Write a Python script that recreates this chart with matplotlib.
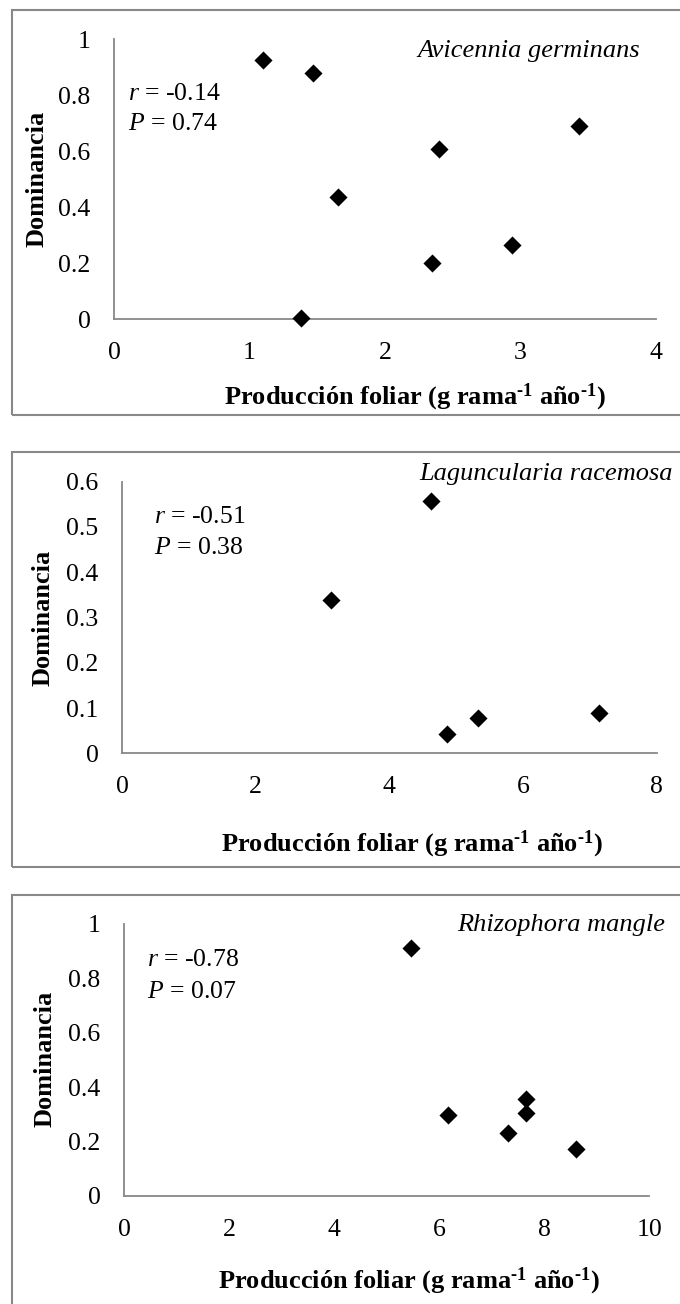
import matplotlib
matplotlib.use('Agg')
import matplotlib.pyplot as plt
from matplotlib.patches import Rectangle

plt.rcParams['font.family'] = 'Liberation Serif'
plt.rcParams['mathtext.fontset'] = 'custom'
plt.rcParams['mathtext.rm'] = 'Liberation Serif:bold'
plt.rcParams['mathtext.it'] = 'Liberation Serif:italic'
plt.rcParams['mathtext.bf'] = 'Liberation Serif:bold'

W, H = 680, 1304
GREY = '#888888'
FS = 18.5

# --- data ---
# Avicennia germinans
avi_x = [1.10, 1.47, 1.65, 1.38, 2.40, 2.35, 2.94, 3.43]
avi_y = [0.925, 0.877, 0.435, 0.005, 0.606, 0.201, 0.264, 0.689]
avi_xticks = [0, 1, 2, 3, 4]
avi_yticks = [0, 0.2, 0.4, 0.6, 0.8, 1]
avi_ylabels = ['0', '0.2', '0.4', '0.6', '0.8', '1']
avi_stats = ['-0.14', '0.74']

# Laguncularia racemosa
lag_x = [4.62, 3.12, 4.87, 5.32, 7.14]
lag_y = [0.557, 0.339, 0.043, 0.077, 0.090]
lag_xticks = [0, 2, 4, 6, 8]
lag_yticks = [0, 0.1, 0.2, 0.3, 0.4, 0.5, 0.6]
lag_ylabels = ['0', '0.1', '0.2', '0.3', '0.4', '0.5', '0.6']
lag_stats = ['-0.51', '0.38']

# Rhizophora mangle
rhi_x = [5.47, 6.16, 7.30, 7.66, 7.66, 8.60]
rhi_y = [0.911, 0.297, 0.230, 0.355, 0.306, 0.171]
rhi_xticks = [0, 2, 4, 6, 8, 10]
rhi_yticks = [0, 0.2, 0.4, 0.6, 0.8, 1]
rhi_ylabels = ['0', '0.2', '0.4', '0.6', '0.8', '1']
rhi_stats = ['-0.78', '0.07']

species = ['Avicennia germinans', 'Laguncularia racemosa', 'Rhizophora mangle']
xlabel = 'Producción foliar (g rama$^{\\text{-1}}$ año$^{\\text{-1}}$)'
ylabel = 'Dominancia'

# layout in pixels (left, top, right, bottom of the plot area)
panels = [
    dict(x=avi_x, y=avi_y, xt=avi_xticks, yt=avi_yticks, yl=avi_ylabels, st=avi_stats,
         area=(114, 39, 656, 319), box=(9.5, 415), sp=(640, 56.5),
         stat=(128, 100.5, 130.5), xlab=(415, 404), ylab=(37, 179)),
    dict(x=lag_x, y=lag_y, xt=lag_xticks, yt=lag_yticks, yl=lag_ylabels, st=lag_stats,
         area=(122, 481.7, 656.7, 753.3), box=(452, 866.5), sp=(673, 480),
         stat=(153.5, 523, 554), xlab=(412, 851.5), ylab=(43, 617.5)),
    dict(x=rhi_x, y=rhi_y, xt=rhi_xticks, yt=rhi_yticks, yl=rhi_ylabels, st=rhi_stats,
         area=(124.3, 924, 649.3, 1195.7), box=(894.5, 1310), sp=(665, 931.5),
         stat=(147, 966.5, 997.5), xlab=(409, 1288), ylab=(44.7, 1059)),
]


def fx(px):
    return px / W


def fy(py):
    return 1 - py / H


fig = plt.figure(figsize=(W / 100, H / 100), dpi=100)

for i, p in enumerate(panels):
    # outer frame of each chart
    top, bot = p['box']
    fig.patches.append(Rectangle((fx(12), fy(bot)), fx(W + 10 - 12), (bot - top) / H,
                                 transform=fig.transFigure, fill=False,
                                 edgecolor=GREY, linewidth=1.5, zorder=0))

    l, t, r, b = p['area']
    ax = fig.add_axes([fx(l), fy(b), fx(r - l), (b - t) / H])
    ax.scatter(p['x'], p['y'], marker='D', s=85, color='black', linewidths=0,
               clip_on=False, zorder=3)
    ax.set_xlim(p['xt'][0], p['xt'][-1])
    ax.set_ylim(p['yt'][0], p['yt'][-1])
    ax.set_xticks(p['xt'])
    ax.set_xticklabels([str(v) for v in p['xt']])
    ax.set_yticks(p['yt'])
    ax.set_yticklabels(p['yl'])
    ax.tick_params(axis='both', length=0, labelsize=FS, colors='black')
    ax.tick_params(axis='x', pad=16.5)
    ax.tick_params(axis='y', pad=17)
    for s in ['top', 'right']:
        ax.spines[s].set_visible(False)
    for s in ['left', 'bottom']:
        ax.spines[s].set_color(GREY)
        ax.spines[s].set_linewidth(1.3)
    ax.patch.set_alpha(0)

    sx, sy = p['sp']
    fig.text(fx(sx), fy(sy), species[i], ha='right', va='baseline',
             fontsize=19, style='italic')
    tx, ry, py = p['stat']
    fig.text(fx(tx), fy(ry), '$r$ = ' + p['st'][0], ha='left', va='baseline', fontsize=FS)
    fig.text(fx(tx), fy(py), '$P$ = ' + p['st'][1], ha='left', va='baseline', fontsize=FS)
    lx, ly = p['xlab']
    fig.text(fx(lx), fy(ly), xlabel, ha='center', va='baseline',
             fontsize=19, fontweight='bold')
    yx, yy = p['ylab']
    fig.text(fx(yx), fy(yy), ylabel, ha='center', va='center', rotation=90,
             fontsize=19, fontweight='bold')

fig.savefig('out.png', dpi=100)
